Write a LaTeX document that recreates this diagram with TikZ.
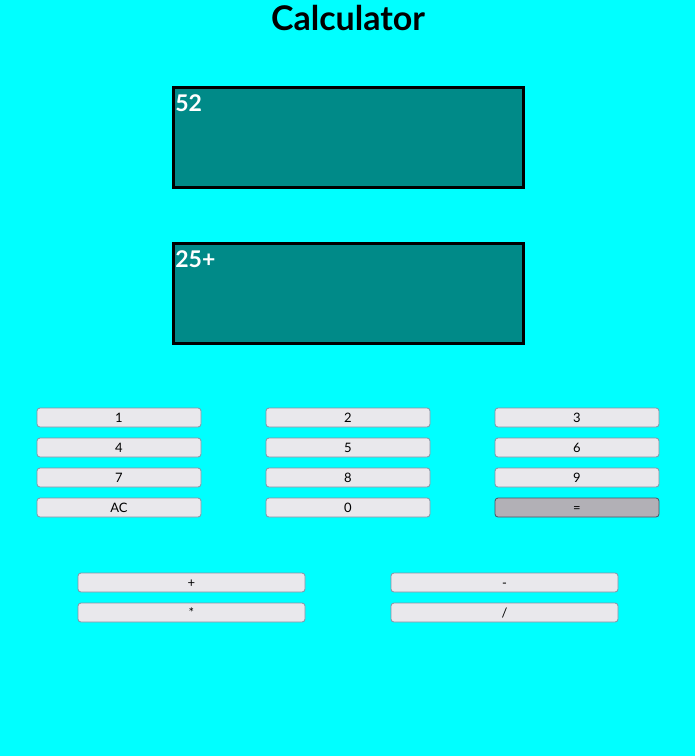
\documentclass[tikz,border=0pt]{standalone}
\usepackage{fontspec}
\setmainfont{Lato}
\usetikzlibrary{positioning}

\definecolor{pagebg}{HTML}{00FFFF}
\definecolor{screen}{HTML}{008A88}
\definecolor{keyfill}{HTML}{E9E8EC}
\definecolor{keyline}{HTML}{8A90A4}
\definecolor{eqfill}{HTML}{B2B0B6}
\definecolor{eqline}{HTML}{4C5262}

\begin{document}
\begin{tikzpicture}[x=1pt, y=-1pt,
    display/.style={draw=black, line width=2.6pt, fill=screen,
                    minimum width=350pt, minimum height=100pt, inner sep=0pt},
    readout/.style={anchor=north west, text=white, font=\fontsize{23}{23}\selectfont\bfseries,
                    inner sep=0pt},
    key/.style={draw=keyline, fill=keyfill, rounded corners=3pt, line width=0.8pt,
                minimum width=164pt, minimum height=19pt, inner sep=0pt,
                text height=9pt, text depth=0pt,
                font=\fontsize{13}{13}\selectfont},
    opkey/.style={key, minimum width=227pt},
    eqkey/.style={key, draw=eqline, fill=eqfill}
]
    % Page background, fixes the margins
    \fill[pagebg] (0,0) rectangle (695,756);
    \useasboundingbox (0,0) rectangle (695,756);

    % Title
    \node at (348, 18) [font=\fontsize{34}{34}\selectfont\bfseries] (title) {Calculator};

    % Result and input displays
    \node at (348.5, 137.5) [display] (result) {};
    \node at (348.5, 293.5) [display] (input) {};
    \node at ([shift={(3pt,-8pt)}]result.north west) [readout] (resulttext) {52};
    \node at ([shift={(3pt,-8pt)}]input.north west) [readout] (inputtext) {25+};

    % Digit keys
    \node at (119, 417.5) [key] (k1) {1};
    \node at (348, 417.5) [key] (k2) {2};
    \node at (577, 417.5) [key] (k3) {3};
    \node at (119, 447.5) [key] (k4) {4};
    \node at (348, 447.5) [key] (k5) {5};
    \node at (577, 447.5) [key] (k6) {6};
    \node at (119, 477.5) [key] (k7) {7};
    \node at (348, 477.5) [key] (k8) {8};
    \node at (577, 477.5) [key] (k9) {9};
    \node at (119, 507.5) [key] (kac) {AC};
    \node at (348, 507.5) [key] (k0) {0};
    \node at (577, 507.5) [eqkey] (keq) {=};

    % Operator keys
    \node at (191.5, 582.5) [opkey] (kplus) {+};
    \node at (504.5, 582.5) [opkey] (kminus) {-};
    \node at (191.5, 612.5) [opkey] (ktimes) {*};
    \node at (504.5, 612.5) [opkey] (kdiv) {/};
\end{tikzpicture}
\end{document}
